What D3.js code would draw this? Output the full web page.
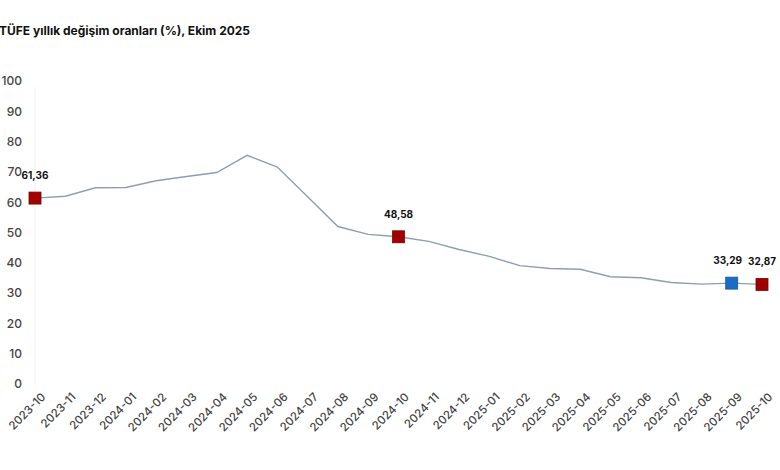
<!DOCTYPE html>
<html>
<head>
<meta charset="utf-8">
<script src="https://cdn.jsdelivr.net/npm/d3@7.9.0/dist/d3.min.js"></script>
<style>
  body { margin: 0; background: #fff; }
  svg { display: block; font-family: Inter, "Liberation Sans", sans-serif; }
</style>
</head>
<body>
<svg id="chart" width="780" height="470"></svg>
<script>
const months = ['2023-10', '2023-11', '2023-12', '2024-01', '2024-02', '2024-03', '2024-04',
  '2024-05', '2024-06', '2024-07', '2024-08', '2024-09', '2024-10', '2024-11', '2024-12',
  '2025-01', '2025-02', '2025-03', '2025-04', '2025-05', '2025-06', '2025-07', '2025-08',
  '2025-09', '2025-10'];
const rates = [61.36, 61.98, 64.77, 64.86, 67.07, 68.50, 69.80, 75.45, 71.60, 61.78, 51.97,
  49.38, 48.58, 47.09, 44.38, 42.12, 39.05, 38.10, 37.86, 35.41, 35.05, 33.52, 32.95, 33.29, 32.87];
const yTicks = [0, 10, 20, 30, 40, 50, 60, 70, 80, 90, 100];
// highlighted points: month, marker colour
const highlights = [
  { month: '2023-10', color: '#a00000' },
  { month: '2024-10', color: '#a00000' },
  { month: '2025-09', color: '#1a6ec2' },
  { month: '2025-10', color: '#a00000' },
];

const data = months.map((m, i) => ({ month: m, value: rates[i] }));
const fmt = (v) => v.toFixed(2).replace('.', ',');

const svg = d3.select('#chart');
const margin = { top: 81, right: 18, bottom: 86, left: 35 };
const width = 780, height = 470;

const x = d3.scalePoint().domain(months).range([margin.left, width - margin.right]);
const y = d3.scaleLinear().domain([0, 100]).range([height - margin.bottom, margin.top]);

// title
svg.append('text')
  .attr('x', -1).attr('y', 35)
  .attr('font-size', 12).attr('font-weight', 700).attr('fill', '#111')
  .text('TÜFE yıllık değişim oranları (%), Ekim 2025');

// faint axis line
svg.append('line')
  .attr('x1', x(months[0])).attr('x2', x(months[0]))
  .attr('y1', y(98)).attr('y2', y(0))
  .attr('stroke', '#f1f1f1');

// y axis
const yAxis = svg.append('g')
  .attr('transform', `translate(${margin.left - 13},0)`)
  .call(d3.axisLeft(y).tickValues(yTicks).tickSize(0).tickPadding(0));
yAxis.select('.domain').remove();
yAxis.selectAll('text')
  .attr('font-size', 12).attr('font-weight', 500).attr('fill', '#444')
  .attr('font-family', 'Inter, sans-serif');

// x axis
const xAxis = svg.append('g')
  .attr('transform', `translate(0,${y(0) + 8})`)
  .call(d3.axisBottom(x).tickSize(0).tickPadding(0));
xAxis.select('.domain').remove();
xAxis.selectAll('text')
  .attr('font-size', 11.5).attr('font-weight', 500).attr('fill', '#444')
  .attr('font-family', 'Inter, sans-serif')
  .attr('text-anchor', 'end')
  .attr('dy', '0.7em')
  .attr('transform', 'translate(5,0) rotate(-45)');

// line
const line = d3.line().x((d) => x(d.month)).y((d) => y(d.value));
svg.append('path')
  .datum(data)
  .attr('fill', 'none')
  .attr('stroke', '#8aa0b2')
  .attr('stroke-width', 1.4)
  .attr('d', line);

// markers
const hl = highlights.map((h) => ({ ...h, value: rates[months.indexOf(h.month)] }));
const size = 12;
svg.append('g').selectAll('rect')
  .data(hl)
  .join('rect')
  .attr('x', (d) => x(d.month) - size / 2)
  .attr('y', (d) => y(d.value) - size / 2)
  .attr('width', size).attr('height', size)
  .attr('fill', (d) => d.color)
  .attr('stroke', (d) => d3.color(d.color).darker(0.6))
  .attr('stroke-width', 0.8);

svg.append('g').selectAll('text')
  .data(hl)
  .join('text')
  .attr('x', (d) => x(d.month) + (d.month === '2025-09' ? -4 : 0))
  .attr('y', (d) => y(d.value) - 19)
  .attr('text-anchor', 'middle')
  .attr('font-size', 10).attr('font-weight', 700).attr('fill', '#111')
  .text((d) => fmt(d.value));
</script>
</body>
</html>
